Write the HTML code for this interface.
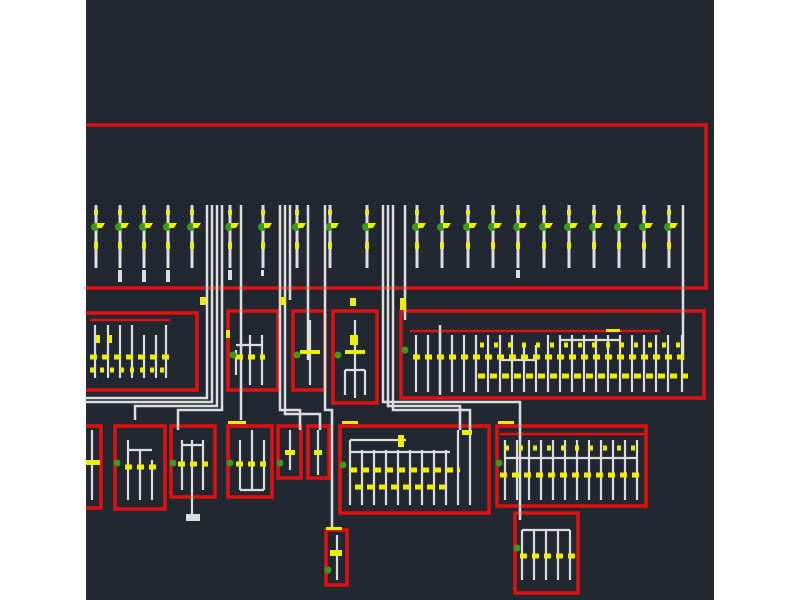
<!DOCTYPE html>
<html><head><meta charset="utf-8"><style>
html,body{margin:0;padding:0;background:#fff;}
svg{display:block}
</style></head><body>
<svg width="800" height="600" viewBox="0 0 800 600" xmlns="http://www.w3.org/2000/svg">
<defs>
<g id="tap">
<line x1="0" y1="205" x2="0" y2="268" stroke="#ddd" stroke-width="3"/>
<circle cx="-1" cy="227" r="4" fill="#3a9a1a"/>
<path d="M1 223 h8 l-3 5 h-5z" fill="#ee0"/>
<rect x="-2" y="242" width="4" height="7" fill="#ee0"/>
<rect x="-2" y="210" width="4" height="5" fill="#ee0"/>
</g>
</defs>
<rect x="86" y="0" width="628" height="600" fill="#222831"/>
<g fill="none" stroke="#e31010" stroke-width="3.5">
<path d="M86 125 H706 V288 H86"/>
<path d="M86 313 H197 V390 H86"/>
<rect x="228" y="311" width="50" height="79"/>
<rect x="293" y="311" width="32" height="79"/>
<rect x="333" y="311" width="44" height="92"/>
<rect x="401" y="311" width="303" height="87"/>
<path d="M86 426 H101 V508 H86"/>
<rect x="115" y="426" width="50" height="83"/>
<rect x="171" y="426" width="44" height="71"/>
<rect x="228" y="426" width="44" height="71"/>
<rect x="278" y="426" width="23" height="52"/>
<rect x="308" y="426" width="21" height="52"/>
<rect x="340" y="426" width="149" height="87"/>
<rect x="497" y="426" width="149" height="80"/>
<rect x="515" y="513" width="63" height="80"/>
<rect x="326" y="530" width="21" height="55"/>
<line x1="410" y1="331" x2="660" y2="331" stroke-width="2.5"/>
<line x1="90" y1="320" x2="170" y2="320" stroke-width="2.5"/>
<line x1="500" y1="434" x2="645" y2="434" stroke-width="2.5"/>
</g>
<use href="#tap" x="96"/><use href="#tap" x="120"/><use href="#tap" x="144"/><use href="#tap" x="168"/><use href="#tap" x="192"/>
<use href="#tap" x="230"/><use href="#tap" x="263"/><use href="#tap" x="297"/><use href="#tap" x="330"/><use href="#tap" x="367"/>
<use href="#tap" x="417"/><use href="#tap" x="442"/><use href="#tap" x="468"/><use href="#tap" x="493"/><use href="#tap" x="518"/><use href="#tap" x="544"/><use href="#tap" x="569"/><use href="#tap" x="594"/><use href="#tap" x="619"/><use href="#tap" x="644"/><use href="#tap" x="669"/>
<g fill="#ddd"><rect x="118" y="270" width="4" height="12"/><rect x="142" y="270" width="4" height="12"/><rect x="166" y="270" width="4" height="12"/><rect x="228" y="270" width="4" height="10"/><rect x="261" y="270" width="3" height="6"/><rect x="516" y="270" width="4" height="8"/></g>
<g stroke="#ddd" stroke-width="2.5" fill="none">
<path d="M207 205 V398 H86"/><path d="M212 205 V402 H86"/><path d="M217 205 V406 H135 V420"/><path d="M222 205 V410 H178 V430"/>
<path d="M241 205 V420"/><path d="M280 205 V410 H300 V430"/><path d="M285 205 V414 H320 V430"/><path d="M290 205 V300"/>
<path d="M308 205 V360"/><path d="M325 205 V410 H332 V530"/><path d="M383 205 V402 H520 V520"/><path d="M388 205 V406 H460 V430"/><path d="M393 205 V410 H470 V430"/>
<path d="M405 205 V320"/><path d="M683 205 V360"/>
<path d="M440 325 V395"/>
</g>
<g stroke="#ddd" stroke-width="2.2">
<line x1="416" y1="335" x2="416" y2="392"/><line x1="428" y1="335" x2="428" y2="392"/><line x1="440" y1="335" x2="440" y2="392"/><line x1="452" y1="335" x2="452" y2="392"/><line x1="464" y1="335" x2="464" y2="392"/><line x1="476" y1="335" x2="476" y2="392"/>
<line x1="488" y1="335" x2="488" y2="392"/><line x1="500" y1="335" x2="500" y2="392"/><line x1="512" y1="335" x2="512" y2="392"/><line x1="524" y1="345" x2="524" y2="392"/><line x1="536" y1="345" x2="536" y2="392"/><line x1="548" y1="335" x2="548" y2="392"/><line x1="560" y1="335" x2="560" y2="392"/><line x1="572" y1="335" x2="572" y2="392"/><line x1="584" y1="335" x2="584" y2="392"/><line x1="596" y1="335" x2="596" y2="392"/><line x1="608" y1="335" x2="608" y2="392"/><line x1="620" y1="335" x2="620" y2="392"/><line x1="632" y1="335" x2="632" y2="392"/><line x1="644" y1="335" x2="644" y2="392"/><line x1="656" y1="335" x2="656" y2="392"/><line x1="668" y1="335" x2="668" y2="392"/><line x1="682" y1="335" x2="682" y2="392"/>
<line x1="560" y1="340" x2="620" y2="340"/><line x1="500" y1="360" x2="536" y2="360"/>
<line x1="505" y1="440" x2="505" y2="500"/><line x1="517" y1="440" x2="517" y2="500"/><line x1="529" y1="440" x2="529" y2="500"/><line x1="541" y1="440" x2="541" y2="500"/><line x1="553" y1="440" x2="553" y2="500"/><line x1="565" y1="440" x2="565" y2="500"/><line x1="577" y1="440" x2="577" y2="500"/><line x1="589" y1="440" x2="589" y2="500"/><line x1="601" y1="440" x2="601" y2="500"/><line x1="613" y1="440" x2="613" y2="500"/><line x1="625" y1="440" x2="625" y2="500"/><line x1="637" y1="440" x2="637" y2="500"/>
<line x1="505" y1="458" x2="637" y2="458"/>
<line x1="350" y1="440" x2="350" y2="505"/><line x1="362" y1="450" x2="362" y2="505"/><line x1="374" y1="450" x2="374" y2="505"/><line x1="386" y1="450" x2="386" y2="505"/><line x1="398" y1="450" x2="398" y2="505"/><line x1="410" y1="450" x2="410" y2="505"/><line x1="422" y1="450" x2="422" y2="505"/><line x1="434" y1="450" x2="434" y2="505"/><line x1="446" y1="450" x2="446" y2="505"/><line x1="458" y1="430" x2="458" y2="505"/><line x1="470" y1="430" x2="470" y2="505"/>
<line x1="350" y1="440" x2="406" y2="440"/><line x1="350" y1="452" x2="450" y2="452"/>
<line x1="522" y1="530" x2="522" y2="580"/><line x1="534" y1="530" x2="534" y2="580"/><line x1="546" y1="530" x2="546" y2="580"/><line x1="558" y1="530" x2="558" y2="580"/><line x1="570" y1="530" x2="570" y2="580"/><line x1="522" y1="530" x2="570" y2="530"/>
<line x1="95" y1="325" x2="95" y2="378"/><line x1="108" y1="325" x2="108" y2="378"/><line x1="120" y1="325" x2="120" y2="378"/><line x1="132" y1="325" x2="132" y2="378"/><line x1="144" y1="335" x2="144" y2="378"/><line x1="156" y1="335" x2="156" y2="378"/><line x1="166" y1="325" x2="166" y2="378"/>
<line x1="250" y1="335" x2="250" y2="385"/><line x1="262" y1="335" x2="262" y2="385"/><line x1="236" y1="350" x2="236" y2="375"/><line x1="236" y1="345" x2="262" y2="345"/>
<line x1="310" y1="320" x2="310" y2="385"/><line x1="355" y1="320" x2="355" y2="398"/><line x1="345" y1="370" x2="345" y2="395"/><line x1="365" y1="370" x2="365" y2="395"/><line x1="345" y1="370" x2="365" y2="370"/>
<line x1="92" y1="430" x2="92" y2="500"/><line x1="128" y1="440" x2="128" y2="500"/><line x1="140" y1="450" x2="140" y2="500"/><line x1="152" y1="460" x2="152" y2="500"/><line x1="128" y1="450" x2="152" y2="450"/>
<line x1="182" y1="440" x2="182" y2="490"/><line x1="192" y1="440" x2="192" y2="515"/><line x1="203" y1="440" x2="203" y2="490"/><line x1="182" y1="445" x2="203" y2="445"/>
<line x1="240" y1="440" x2="240" y2="490"/><line x1="252" y1="430" x2="252" y2="490"/><line x1="264" y1="440" x2="264" y2="490"/><line x1="240" y1="490" x2="264" y2="490"/>
<line x1="290" y1="430" x2="290" y2="470"/><line x1="318" y1="430" x2="318" y2="475"/><line x1="337" y1="535" x2="337" y2="580"/>
</g>
<g stroke="#ee0" stroke-width="5" stroke-dasharray="7 5" fill="none">
<line x1="413" y1="357" x2="688" y2="357"/><line x1="478" y1="376" x2="688" y2="376"/><line x1="480" y1="345" x2="680" y2="345" stroke-dasharray="4 10"/>
<line x1="500" y1="475" x2="640" y2="475"/><line x1="505" y1="448" x2="640" y2="448" stroke-dasharray="4 10"/><line x1="350" y1="470" x2="460" y2="470"/><line x1="355" y1="487" x2="445" y2="487"/>
<line x1="520" y1="556" x2="575" y2="556"/><line x1="90" y1="357" x2="170" y2="357"/><line x1="90" y1="370" x2="170" y2="370" stroke-dasharray="4 6"/>
<line x1="236" y1="357" x2="265" y2="357"/><line x1="125" y1="467" x2="160" y2="467"/><line x1="178" y1="464" x2="208" y2="464"/><line x1="236" y1="464" x2="266" y2="464"/>
</g>
<g fill="#ee0">
<rect x="300" y="350" width="20" height="4"/><rect x="345" y="350" width="20" height="4"/><rect x="350" y="335" width="8" height="10"/>
<rect x="285" y="450" width="10" height="5"/><rect x="314" y="450" width="8" height="5"/><rect x="330" y="550" width="12" height="6"/>
<rect x="86" y="460" width="14" height="5"/><rect x="400" y="298" width="6" height="12"/><rect x="350" y="298" width="6" height="8"/>
<rect x="280" y="297" width="6" height="8"/><rect x="200" y="297" width="6" height="8"/><rect x="228" y="421" width="18" height="3"/>
<rect x="498" y="421" width="16" height="3"/><rect x="342" y="421" width="16" height="3"/><rect x="606" y="329" width="14" height="3"/>
<rect x="398" y="435" width="6" height="12"/><rect x="462" y="430" width="10" height="5"/><rect x="326" y="527" width="16" height="3"/>
<rect x="96" y="335" width="4" height="8"/><rect x="108" y="335" width="4" height="8"/><rect x="226" y="330" width="4" height="8"/>
</g>
<g fill="#3a9a1a">
<circle cx="233" cy="355" r="3.5"/><circle cx="297" cy="355" r="3.5"/><circle cx="338" cy="355" r="3.5"/><circle cx="405" cy="350" r="3.5"/>
<circle cx="117" cy="463" r="3.5"/><circle cx="173" cy="463" r="3.5"/><circle cx="230" cy="463" r="3.5"/><circle cx="280" cy="463" r="3.5"/><circle cx="343" cy="465" r="3.5"/><circle cx="499" cy="463" r="3.5"/><circle cx="517" cy="548" r="3.5"/><circle cx="328" cy="570" r="3.5"/>
</g>
<rect x="186" y="514" width="14" height="7" fill="#ddd"/>
</svg>
</body></html>
